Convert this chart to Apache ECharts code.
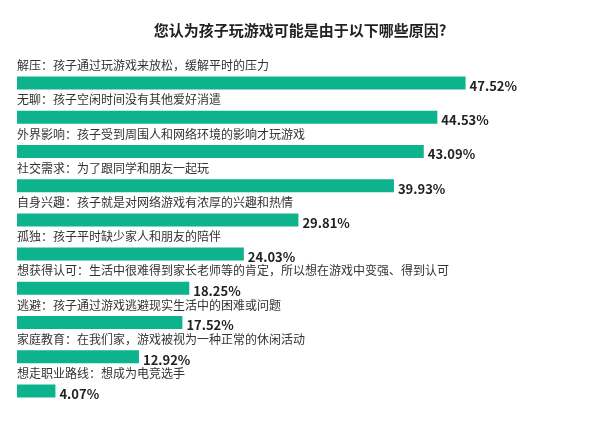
<!DOCTYPE html><html><head><meta charset="utf-8"><script src="https://cdn.jsdelivr.net/npm/echarts@6/dist/echarts.min.js"></script></head><body style="margin:0;background:#fff"><div id="c" style="width:600px;height:423px"></div><script>
const categories=["解压：孩子通过玩游戏来放松，缓解平时的压力","无聊：孩子空闲时间没有其他爱好消遣","外界影响：孩子受到周围人和网络环境的影响才玩游戏","社交需求：为了跟同学和朋友一起玩","自身兴趣：孩子就是对网络游戏有浓厚的兴趣和热情","孤独：孩子平时缺少家人和朋友的陪伴","想获得认可：生活中很难得到家长老师等的肯定，所以想在游戏中变强、得到认可","逃避：孩子通过游戏逃避现实生活中的困难或问题","家庭教育：在我们家，游戏被视为一种正常的休闲活动","想走职业路线：想成为电竞选手"];
const values=[47.52,44.53,43.09,39.93,29.81,24.03,18.25,17.52,12.92,4.07];
const ch=echarts.init(document.getElementById('c'));
ch.setOption({animation:false,
title:{text:'您认为孩子玩游戏可能是由于以下哪些原因?',left:'center',top:18,textStyle:{fontSize:15,fontWeight:'bold',color:'#222',fontFamily:'Noto Sans CJK SC'}},
grid:{left:17,right:111,top:66,bottom:15},
xAxis:{type:'value',min:0,max:50,show:false},
yAxis:{type:'category',data:categories,inverse:true,show:false},
series:[{type:'bar',data:values,barWidth:13,itemStyle:{color:'#0DB38D'},
label:{show:true,position:'right',distance:4,formatter:p=>p.value.toFixed(2)+'%',fontSize:13,fontWeight:'bold',color:'#222',offset:[0,3],fontFamily:'Noto Sans CJK SC'}},
{type:'bar',data:values,barWidth:13,barGap:'-100%',itemStyle:{color:'rgba(0,0,0,0)'},silent:true,
label:{show:true,position:[0,-17],formatter:p=>p.name,fontSize:12,color:'#333',fontFamily:'Noto Sans CJK SC'}}]});
</script></body></html>
